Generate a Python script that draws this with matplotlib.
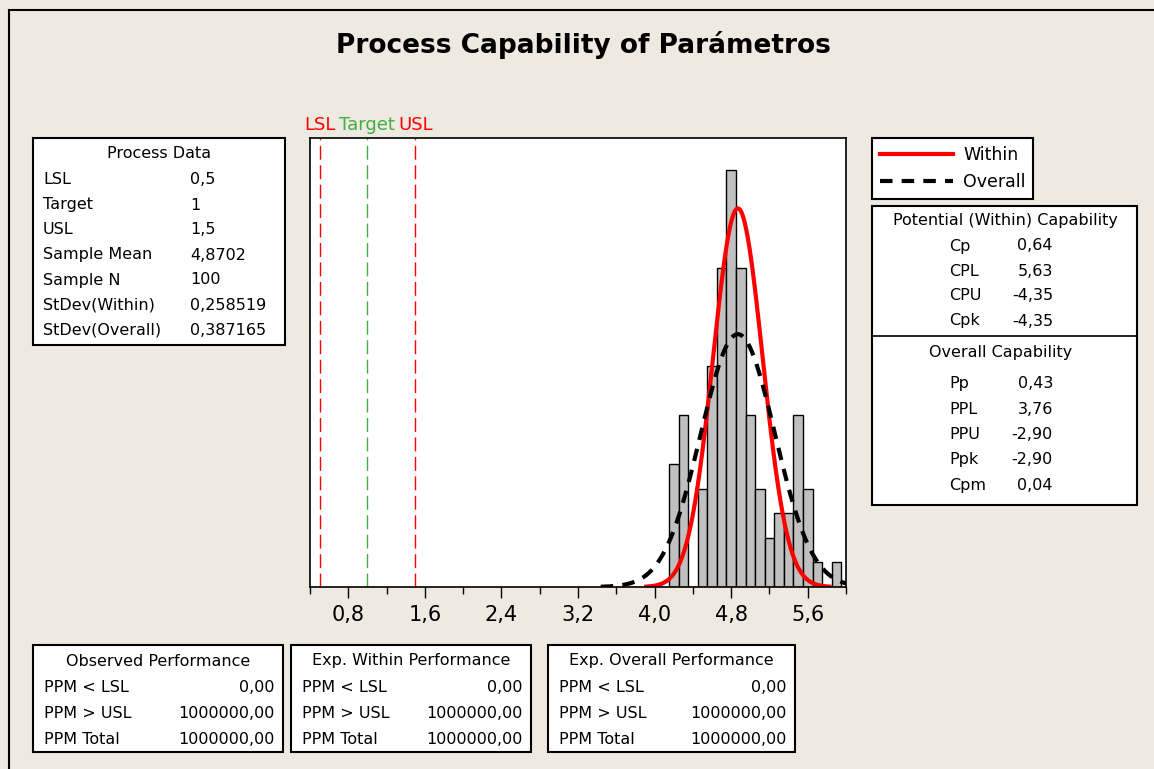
import numpy as np
import matplotlib.pyplot as plt
from matplotlib.patches import Rectangle
from matplotlib.lines import Line2D

# ---------------- data ----------------
bin_centers = [4.2, 4.3, 4.4, 4.5, 4.6, 4.7, 4.8, 4.9, 5.0, 5.1, 5.2, 5.3, 5.4, 5.5, 5.6, 5.7, 5.8, 5.9]
counts = [5, 7, 0, 4, 9, 13, 17, 13, 7, 4, 2, 3, 3, 7, 4, 1, 0, 1]
bin_width = 0.1

lsl, target, usl = 0.5, 1.0, 1.5
sample_mean = 4.8702
sample_n = 100
sd_within = 0.258519
sd_overall = 0.387165

xticks = [0.8, 1.6, 2.4, 3.2, 4.0, 4.8, 5.6]
xtick_labels = ["0,8", "1,6", "2,4", "3,2", "4,0", "4,8", "5,6"]
minor_ticks = [0.4, 1.2, 2.0, 2.8, 3.6, 4.4, 5.2, 6.0]

process_labels = ["LSL", "Target", "USL", "Sample Mean", "Sample N", "StDev(Within)", "StDev(Overall)"]
process_values = ["0,5", "1", "1,5", "4,8702", "100", "0,258519", "0,387165"]

potential_labels = ["Cp", "CPL", "CPU", "Cpk"]
potential_values = ["0,64", "5,63", "-4,35", "-4,35"]
overall_labels = ["Pp", "PPL", "PPU", "Ppk", "Cpm"]
overall_values = ["0,43", "3,76", "-2,90", "-2,90", "0,04"]

perf_titles = ["Observed Performance", "Exp. Within Performance", "Exp. Overall Performance"]
perf_labels = ["PPM < LSL", "PPM > USL", "PPM Total"]
perf_values = [["0,00", "1000000,00", "1000000,00"],
               ["0,00", "1000000,00", "1000000,00"],
               ["0,00", "1000000,00", "1000000,00"]]

# ---------------- figure ----------------
W, H = 1154, 769
bg = '#EEEAE1'
green = '#3FAF3F'

fig = plt.figure(figsize=(W / 100, H / 100), dpi=100, facecolor=bg)


def fx(x):
    return x / W


def fy(y):
    return 1 - y / H


def box(x0, y0, x1, y1):
    fig.patches.append(Rectangle((fx(x0), fy(y1)), fx(x1 - x0), (y1 - y0) / H,
                                 transform=fig.transFigure, facecolor='white',
                                 edgecolor='black', linewidth=1.5))


# outer frame (only left and top edges visible)
fig.patches.append(Rectangle((fx(9), -0.05), 1.0, fy(10) + 0.05, transform=fig.transFigure,
                             fill=False, edgecolor='black', linewidth=1.5))

fig.text(fx(583), fy(45), "Process Capability of Parámetros", fontsize=19,
         fontweight='bold', ha='center', va='center')

# ---------------- histogram ----------------
ax = fig.add_axes([fx(310), fy(587), (846 - 310) / W, (587 - 138) / H])
ax.set_facecolor('white')
ax.bar(bin_centers, counts, width=bin_width, color='#C0C0C0', edgecolor='black', linewidth=1)


def normal_curve(sd):
    xs = np.linspace(sample_mean - 3.7 * sd, sample_mean + 3.7 * sd, 400)
    ys = sample_n * bin_width * np.exp(-0.5 * ((xs - sample_mean) / sd) ** 2) / (sd * np.sqrt(2 * np.pi))
    return xs, ys


xw, yw = normal_curve(sd_within)
xo, yo = normal_curve(sd_overall)
ax.plot(xw, yw, color='red', linewidth=3)
ax.plot(xo, yo, color='black', linewidth=3, dashes=(3, 2.2))

for val, col, name in [(lsl, 'red', 'LSL'), (target, green, 'Target'), (usl, 'red', 'USL')]:
    ax.axvline(val, color=col, linewidth=1, dashes=(10, 4))
    ax.text(val, 1.008, name, color=col, fontsize=13, ha='center', va='bottom',
            transform=ax.get_xaxis_transform())

ax.set_xlim(0.4, 6.0)
ax.set_ylim(0, 18.3)
ax.set_yticks([])
ax.set_xticks(xticks)
ax.set_xticklabels(xtick_labels, fontsize=15)
ax.set_xticks(minor_ticks, minor=True)
ax.tick_params(axis='x', which='major', length=8, width=1, pad=5)
ax.tick_params(axis='x', which='minor', length=5, width=1)
for s in ax.spines.values():
    s.set_linewidth(1.2)

# ---------------- legend ----------------
leg = fig.legend([Line2D([], [], color='red', linewidth=3),
                  Line2D([], [], color='black', linewidth=3, dashes=(3, 2.2))],
                 ["Within", "Overall"], loc='upper left',
                 bbox_to_anchor=(fx(872), fy(138)), fontsize=12.5, frameon=True,
                 fancybox=False, edgecolor='black', framealpha=1, borderaxespad=0,
                 handlelength=4.2, handletextpad=0.6, borderpad=0.45, labelspacing=0.55)
leg.get_frame().set_linewidth(1.5)

# ---------------- process data ----------------
box(33, 138, 285, 345)
fig.text(fx(159), fy(153), "Process Data", fontsize=11.5, ha='center', va='center')
for i, (lab, val) in enumerate(zip(process_labels, process_values)):
    y = 180 + i * 25
    fig.text(fx(43), fy(y), lab, fontsize=11.5, ha='left', va='center')
    fig.text(fx(190), fy(y), val, fontsize=11.5, ha='left', va='center')

# ---------------- capability ----------------
box(872, 206, 1137, 505)
fig.add_artist(Line2D([fx(872), fx(1137)], [fy(336), fy(336)], color='black',
                      linewidth=1.2, transform=fig.transFigure))
fig.text(fx(1005), fy(221), "Potential (Within) Capability", fontsize=11.5, ha='center', va='center')
for i, (lab, val) in enumerate(zip(potential_labels, potential_values)):
    y = 246 + i * 25
    fig.text(fx(949), fy(y), lab, fontsize=11.5, ha='left', va='center')
    fig.text(fx(1053), fy(y), val, fontsize=11.5, ha='right', va='center')
fig.text(fx(1001), fy(353), "Overall Capability", fontsize=11.5, ha='center', va='center')
for i, (lab, val) in enumerate(zip(overall_labels, overall_values)):
    y = 384 + i * 25.3
    fig.text(fx(949), fy(y), lab, fontsize=11.5, ha='left', va='center')
    fig.text(fx(1053), fy(y), val, fontsize=11.5, ha='right', va='center')

# ---------------- performance ----------------
perf_boxes = [(33, 283), (291, 531), (548, 795)]
for (x0, x1), title, vals in zip(perf_boxes, perf_titles, perf_values):
    box(x0, 645, x1, 752)
    fig.text(fx((x0 + x1) / 2), fy(661), title, fontsize=11.5, ha='center', va='center')
    for j, (lab, val) in enumerate(zip(perf_labels, vals)):
        y = 687 + j * 26
        fig.text(fx(x0 + 11), fy(y), lab, fontsize=11.5, ha='left', va='center')
        fig.text(fx(x1 - 8), fy(y), val, fontsize=11.5, ha='right', va='center')

fig.savefig("out.png", dpi=100, facecolor=bg)
